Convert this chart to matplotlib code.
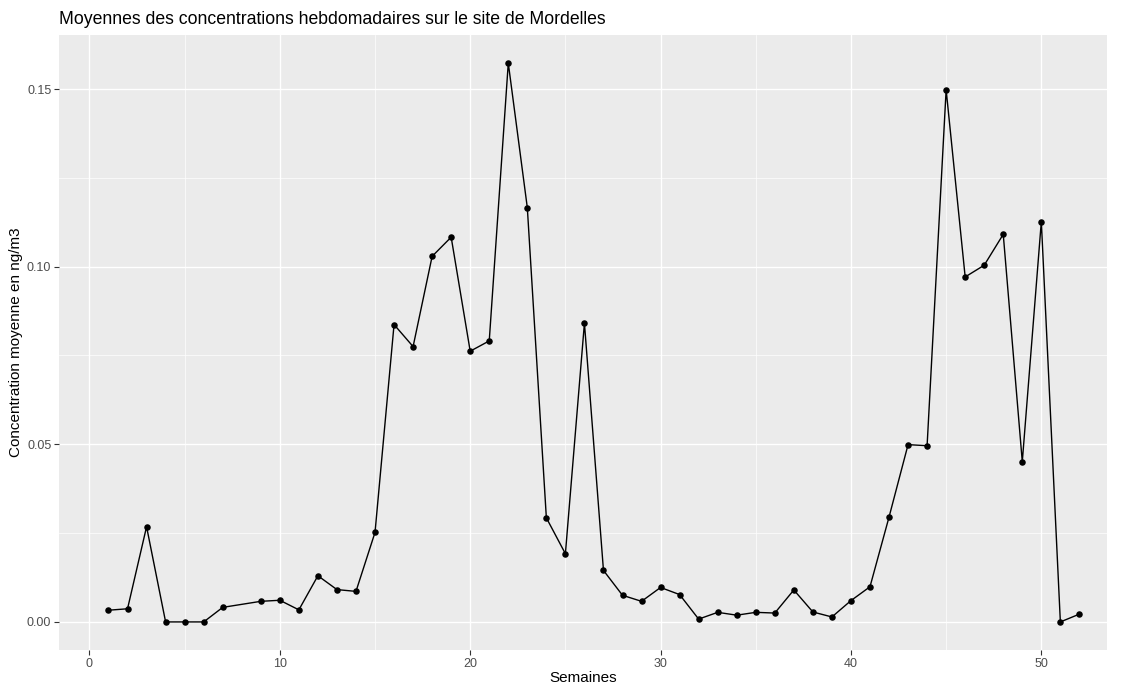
import matplotlib

matplotlib.use("Agg")
import matplotlib.pyplot as plt
from matplotlib.ticker import MultipleLocator

plt.rcParams["font.family"] = ["Liberation Sans", "DejaVu Sans"]

# weekly means, week 8 has no measurement
weeks = [1, 2, 3, 4, 5, 6, 7, 9, 10, 11, 12, 13, 14, 15, 16, 17, 18, 19, 20,
         21, 22, 23, 24, 25, 26, 27, 28, 29, 30, 31, 32, 33, 34, 35, 36, 37,
         38, 39, 40, 41, 42, 43, 44, 45, 46, 47, 48, 49, 50, 51, 52]
concentration = [0.0033, 0.0037, 0.0268, 0.0, 0.0, 0.0, 0.0041, 0.0058, 0.0061,
                 0.0034, 0.0130, 0.0091, 0.0086, 0.0252, 0.0837, 0.0775, 0.1029,
                 0.1083, 0.0762, 0.0791, 0.1573, 0.1166, 0.0293, 0.0192, 0.0841,
                 0.0145, 0.0075, 0.0058, 0.0097, 0.0077, 0.0008, 0.0027, 0.0019,
                 0.0027, 0.0025, 0.0090, 0.0028, 0.0014, 0.0060, 0.0099, 0.0295,
                 0.0499, 0.0496, 0.1498, 0.0971, 0.1004, 0.1091, 0.0451, 0.1127,
                 0.0, 0.0022]

fig = plt.figure(figsize=(11.23, 6.86), dpi=100)
ax = fig.add_axes([59 / 1123, 1 - 650 / 686, (1107 - 59) / 1123, (650 - 35) / 686])
ax.set_facecolor("#EBEBEB")

ax.plot(weeks, concentration, color="black", linewidth=1.0, zorder=3)
ax.scatter(weeks, concentration, color="black", s=22, zorder=4, linewidths=0)

ax.set_xlim(-1.6, 53.45)
ax.set_ylim(-0.0079, 0.1652)
ax.xaxis.set_major_locator(MultipleLocator(10))
ax.xaxis.set_minor_locator(MultipleLocator(5))
ax.yaxis.set_major_locator(MultipleLocator(0.05))
ax.yaxis.set_minor_locator(MultipleLocator(0.025))
ax.yaxis.set_major_formatter(lambda v, p: f"{v:.2f}")

ax.grid(which="major", color="white", linewidth=1.0, zorder=0)
ax.grid(which="minor", color="white", linewidth=0.5, zorder=0)
ax.set_axisbelow(True)
for s in ax.spines.values():
    s.set_visible(False)
ax.tick_params(which="major", length=3.5, width=0.8, color="#333333",
               labelcolor="#4D4D4D", labelsize=9, pad=2)
ax.tick_params(which="minor", length=0)

ax.set_xlabel("Semaines", fontsize=11, labelpad=1)
ax.set_ylabel("Concentration moyenne en ng/m3", fontsize=11, labelpad=3)
ax.set_title("Moyennes des concentrations hebdomadaires sur le site de Mordelles",
             fontsize=12.7, loc="left", pad=8)

fig.savefig("out.png", facecolor="white")
